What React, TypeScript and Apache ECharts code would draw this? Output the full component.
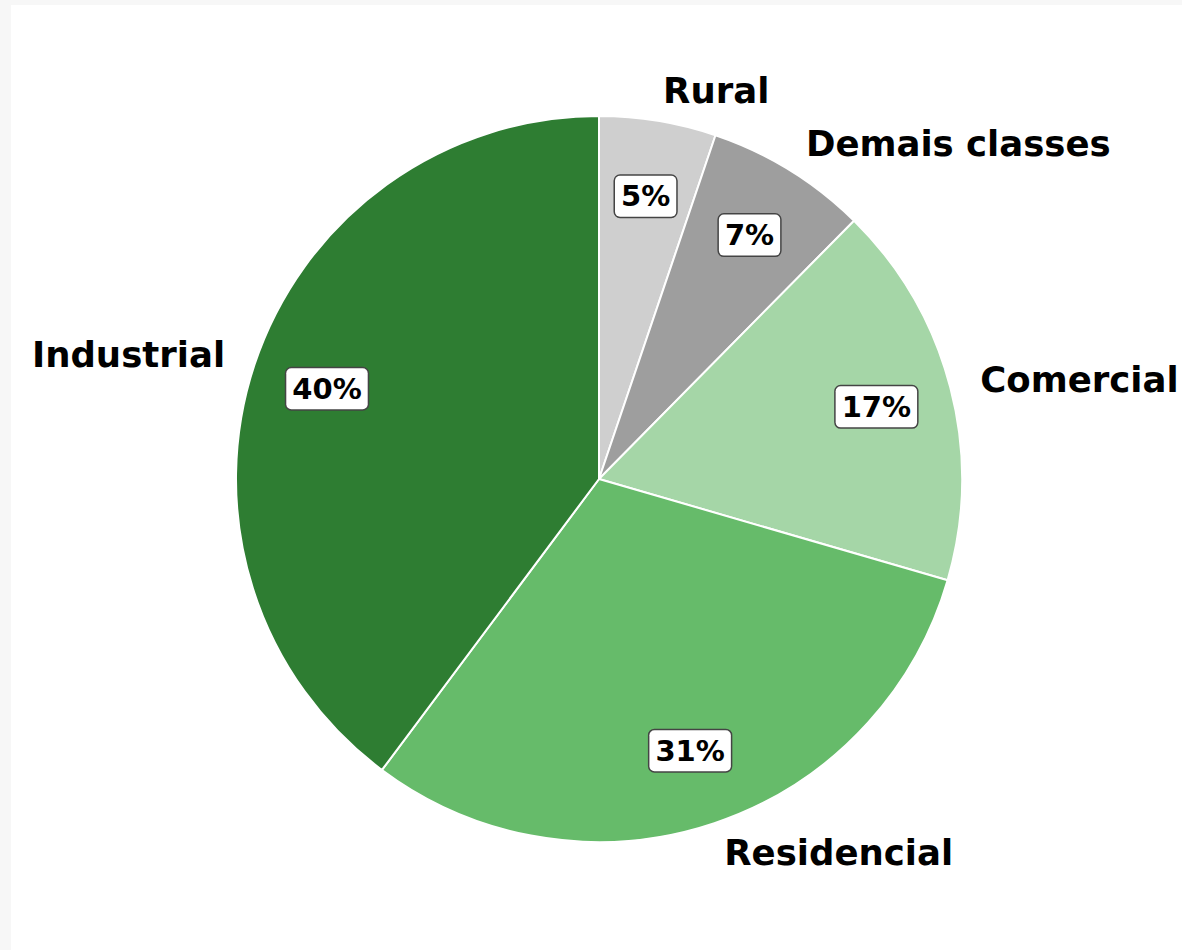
import React, { useEffect, useRef } from "react";
import * as echarts from "echarts";

const categories = ["Rural", "Demais classes", "Comercial", "Residencial", "Industrial"];
const values = [5.2, 7.2, 17.1, 30.7, 39.8];
const colors = ["#cfcfcf", "#9e9e9e", "#a5d6a7", "#66bb6a", "#2e7d32"];

export default function App() {
  const ref = useRef<HTMLDivElement>(null);

  useEffect(() => {
    if (!ref.current) return;
    const chart = echarts.init(ref.current, null, { renderer: "svg" });
    const data = categories.map((name, i) => ({
      name,
      value: values[i],
      itemStyle: { color: colors[i] },
    }));
    const R = 363;
    const font = "'DejaVu Sans', sans-serif";
    chart.setOption({
      animation: false,
      backgroundColor: "transparent",
      series: [
        {
          type: "pie",
          center: [599, 479],
          radius: [0, R],
          startAngle: 90,
          clockwise: true,
          avoidLabelOverlap: false,
          silent: true,
          itemStyle: { borderColor: "#ffffff", borderWidth: 2 },
          label: {
            show: true,
            position: "outside",
            distanceToLabelLine: 0,
            formatter: "{b}",
            color: "#000",
            fontFamily: font,
            fontWeight: "bold",
            fontSize: 35.5,
          },
          labelLine: { show: false, length: 31, length2: 0 },
          data,
        },
        {
          type: "pie",
          center: [599, 479],
          radius: [R * 0.5625, R],
          startAngle: 90,
          clockwise: true,
          avoidLabelOverlap: false,
          silent: true,
          itemStyle: { color: "rgba(0,0,0,0)", borderWidth: 0 },
          label: {
            show: true,
            position: "inside",
            formatter: (p: any) => Math.round(p.percent) + "%",
            color: "#000",
            fontFamily: font,
            fontWeight: "bold",
            fontSize: 29,
            lineHeight: 31,
            backgroundColor: "#ffffff",
            borderColor: "#444444",
            borderWidth: 1.5,
            borderRadius: 5,
            padding: [5, 6],
          },
          labelLine: { show: false },
          data: categories.map((name, i) => ({ name, value: values[i] })),
        },
      ],
    });
    return () => chart.dispose();
  }, []);

  return (
    <div
      style={{
        position: "absolute",
        left: 0,
        top: 0,
        width: 1182,
        height: 950,
        background: "#f7f7f7",
        overflow: "hidden",
      }}
    >
      <div
        style={{
          position: "absolute",
          left: 11,
          top: 5,
          width: 1171,
          height: 945,
          background: "#ffffff",
        }}
      />
      <div
        ref={ref}
        style={{ position: "absolute", left: 0, top: 0, width: 1182, height: 950 }}
      />
    </div>
  );
}
